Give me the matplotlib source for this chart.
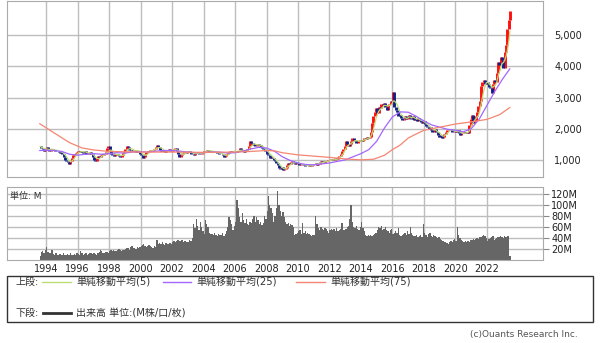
import numpy as np
import pandas as pd
import matplotlib
matplotlib.use('Agg')
import matplotlib.pyplot as plt
from matplotlib.patches import Rectangle
from matplotlib.lines import Line2D
from matplotlib.ticker import FuncFormatter

plt.rcParams['font.family'] = ['DejaVu Sans', 'Noto Sans CJK JP']

# monthly closes, Aug 1993 .. Jun 2023
close = [
    1430, 1380, 1350, 1290, 1330,
    1400, 1340, 1300, 1330, 1360, 1310, 1280, 1300, 1270, 1250, 1230, 1260,
    1200, 1100, 1000, 950, 920, 880, 960, 1050, 1150, 1180, 1220, 1250,
    1280, 1240, 1300, 1260, 1230, 1270, 1200, 1180, 1210, 1250, 1190, 1100,
    980, 950, 1050, 1120, 1080, 1150, 1200, 1140, 1180, 1250, 1380, 1430,
    1300, 1200, 1160, 1130, 1180, 1200, 1150, 1120, 1080, 1150, 1220, 1260,
    1350, 1450, 1400, 1320, 1280, 1300, 1330, 1290, 1260, 1300, 1280, 1200,
    1150, 1070, 1100, 1200, 1260, 1300, 1280, 1330, 1290, 1310, 1360, 1420,
    1470, 1400, 1330, 1300, 1320, 1280, 1250, 1290, 1310, 1340, 1300, 1280,
    1320, 1350, 1370, 1300, 1200, 1100, 1150, 1200, 1230, 1260, 1220, 1250,
    1270, 1240, 1200, 1180, 1160, 1210, 1250, 1230, 1200, 1180, 1220, 1260,
    1280, 1300, 1320, 1280, 1260, 1290, 1270, 1250, 1240, 1260, 1230, 1200,
    1180, 1200, 1150, 1100, 1120, 1180, 1220, 1260, 1280, 1250, 1270, 1290,
    1260, 1280, 1300, 1370, 1330, 1280, 1250, 1270, 1300, 1350, 1450, 1590,
    1530, 1480, 1500, 1430, 1460, 1520, 1480, 1400, 1380, 1350, 1300, 1270,
    1200, 1150, 1060, 1100, 1050, 980, 950, 900, 820, 730, 700, 760,
    680, 700, 750, 850, 900, 870, 920, 950, 900, 880, 920, 900,
    850, 830, 880, 860, 820, 800, 810, 790, 820, 800, 830, 860,
    880, 900, 850, 880, 920, 950, 930, 900, 950, 970, 980, 1000,
    1000, 1020, 980, 1000, 1050, 1030, 1080, 1120, 1180, 1270, 1350, 1450,
    1590, 1500, 1450, 1520, 1600, 1700, 1650, 1600, 1550, 1590, 1620, 1640,
    1600, 1650, 1700, 1680, 1720, 1700, 1750, 1900, 2180, 2400, 2550, 2650,
    2500, 2700, 2650, 2800, 2750, 2840, 2700, 2600, 2750, 2800, 2900, 2850,
    3170, 2710, 2600, 2550, 2400, 2450, 2350, 2290, 2320, 2400, 2300, 2380,
    2450, 2350, 2300, 2400, 2290, 2320, 2250, 2350, 2280, 2200, 2190, 2250,
    2150, 2100, 2070, 2000, 2050, 1950, 1900, 1950, 2000, 1880, 1800, 1750,
    1800, 1700, 1750, 1840, 1900, 1970, 1950, 2000, 1950, 1900, 1880, 1920,
    1900, 1950, 1870, 1800, 1850, 1870, 1900, 1850, 1880, 1870, 2130, 2300,
    2450, 2190, 2250, 2400, 2550, 2720, 2900, 3360, 3500, 3580, 3450, 3500,
    3420, 3350, 3300, 3160, 3450, 3580, 3500, 3800, 4130, 4050, 4290, 4200,
    3950, 4450, 4700, 5190, 5500, 5770,
]

# monthly volume in millions, same months
volume = [
    8, 14, 16, 13, 18,
    24, 15, 12, 13, 18, 11, 10, 12, 9, 10, 11, 9,
    10, 12, 9, 10, 11, 10, 12, 9, 10, 11, 10, 12,
    11, 10, 16, 12, 10, 11, 12, 10, 11, 12, 13, 11,
    12, 11, 10, 12, 14, 18, 16, 13, 12, 14, 15, 13,
    16, 18, 17, 19, 17, 16, 18, 20, 19, 17, 18, 19,
    20, 22, 21, 19, 24, 26, 22, 21, 20, 23, 22, 24,
    25, 27, 30, 26, 24, 25, 27, 26, 24, 22, 25, 23,
    36, 30, 31, 29, 32, 30, 28, 31, 30, 29, 31, 30,
    32, 34, 33, 35, 36, 34, 35, 36, 33, 34, 35, 32,
    33, 36, 35, 40, 65, 58, 75, 62, 55, 70, 60, 52,
    48, 72, 65, 60, 50, 47, 48, 46, 50, 45, 44, 47,
    45, 46, 50, 44, 48, 52, 60, 78, 72, 65, 55, 62,
    70, 110, 95, 78, 70, 85, 72, 68, 75, 66, 64, 70,
    68, 75, 80, 70, 78, 72, 66, 70, 64, 68, 80, 75,
    90, 117, 100, 95, 85, 70, 80, 95, 125, 100, 90, 80,
    88, 78, 70, 65, 68, 62, 65, 64, 60, 45, 48, 50,
    52, 55, 48, 67, 50, 52, 48, 50, 47, 45, 44, 46,
    45, 80, 65, 58, 55, 60, 57, 55, 58, 56, 52, 50,
    55, 57, 54, 56, 53, 58, 52, 55, 57, 67, 55, 54,
    56, 60, 62, 75, 100, 70, 60, 58, 62, 56, 55, 60,
    70, 58, 52, 45, 44, 46, 43, 45, 44, 46, 47, 50,
    55, 60, 58, 62, 55, 57, 60, 55, 52, 50, 54, 56,
    48, 50, 52, 49, 58, 46, 44, 45, 47, 50, 45, 52,
    48, 60, 50, 46, 44, 43, 45, 42, 44, 46, 42, 66,
    50, 45, 42, 48, 50, 44, 42, 46, 43, 41, 40, 42,
    38, 36, 35, 33, 32, 31, 30, 33, 34, 32, 36, 38,
    35, 60, 45, 40, 36, 34, 33, 35, 32, 34, 33, 36,
    37, 38, 36, 38, 40, 39, 41, 42, 44, 46, 43, 40,
    35, 38, 40, 42, 44, 36, 38, 40, 42, 41, 43, 42,
    40, 43, 42, 44, 43, 8,
]

# moving averages (decimal year, value)
ma25_x = [1993.6, 1994.0, 1994.5, 1995.0, 1995.5, 1996.0, 1996.5, 1997.0, 1997.5, 1998.0,
          1998.5, 1999.0, 1999.5, 2000.0, 2000.5, 2001.0, 2001.5, 2002.0, 2002.5, 2003.0,
          2003.5, 2004.0, 2004.5, 2005.0, 2005.5, 2006.0, 2006.5, 2007.0, 2007.5, 2008.0,
          2008.5, 2009.0, 2009.5, 2010.0, 2010.5, 2011.0, 2011.5, 2012.0, 2012.5, 2013.0,
          2013.5, 2014.0, 2014.5, 2015.0, 2015.5, 2016.0, 2016.5, 2017.0, 2017.5, 2018.0,
          2018.5, 2019.0, 2019.5, 2020.0, 2020.5, 2021.0, 2021.5, 2022.0, 2022.5, 2023.0,
          2023.45]
ma25_y = [1300, 1310, 1300, 1270, 1180, 1150, 1180, 1200, 1180, 1200,
          1230, 1220, 1250, 1260, 1250, 1280, 1300, 1300, 1280, 1250,
          1230, 1230, 1250, 1250, 1220, 1230, 1280, 1350, 1400, 1380,
          1280, 1100, 980, 900, 850, 840, 870, 900, 950, 1000,
          1100, 1200, 1330, 1600, 2030, 2380, 2540, 2530, 2400, 2250,
          2120, 2050, 1980, 1950, 1900, 2000, 2300, 2750, 3200, 3600,
          3920]

ma75_x = [1993.6, 1994.5, 1995.5, 1996.3, 1997.0, 1998.0, 2000.0, 2002.0, 2004.0, 2006.0,
          2007.0, 2008.0, 2008.5, 2009.0, 2010.0, 2011.0, 2012.0, 2013.0, 2014.0, 2014.8,
          2015.5, 2016.0, 2016.5, 2017.0, 2017.5, 2018.0, 2019.0, 2020.0, 2021.0, 2022.0,
          2022.8, 2023.45]
ma75_y = [2160, 1870, 1550, 1380, 1320, 1270, 1250, 1250, 1240, 1250,
          1270, 1300, 1290, 1230, 1160, 1120, 1080, 1030, 1000, 1020,
          1150, 1330, 1480, 1700, 1830, 1950, 2050, 2150, 2220, 2300,
          2450, 2680]

years = list(range(1994, 2023, 2))

# month centres as decimal years
t = 1993 + (7 + np.arange(len(close)) + 0.5) / 12
close = np.array(close, dtype=float)
opens = np.r_[close[0], close[:-1]]
ma5 = pd.Series(close).rolling(5, min_periods=1).mean()

grid_c = '#bdbdbd'

fig = plt.figure(figsize=(6, 3.43), dpi=100)
ax = fig.add_axes([0.0117, 0.484, 0.8933, 0.513])
ax2 = fig.add_axes([0.0117, 0.242, 0.8933, 0.213])

# candles
up = close >= opens
ax.vlines(t[up], opens[up], close[up], color='#ff1010', lw=2.1, zorder=2)
ax.vlines(t[~up], opens[~up], close[~up], color='#10208a', lw=2.1, zorder=2)
ax.plot(t, ma5, color='#bcdc78', lw=0.9, zorder=3)
ax.plot(ma25_x, ma25_y, color='#a366ff', lw=0.9, zorder=3)
ax.plot(ma75_x, ma75_y, color='#f58572', lw=0.9, zorder=3)

ax.set_xlim(1991.52, 2025.56)
ax.set_ylim(450, 6100)
ax.set_yticks([1000, 2000, 3000, 4000, 5000])
ax.yaxis.set_major_formatter(FuncFormatter(lambda v, p: f'{int(v):,}'))
ax.yaxis.tick_right()
ax.set_xticks(years)
ax.tick_params(axis='x', length=0, labelbottom=False)
ax.tick_params(axis='y', length=0, pad=8, labelsize=7, labelcolor='#222222')
ax.grid(True, color=grid_c, lw=1)
ax.set_axisbelow(True)

# volume
ax2.bar(t, volume, width=1 / 12, color='#666666', lw=0)
ax2.set_xlim(1991.52, 2025.56)
ax2.set_ylim(0, 133)
ax2.set_yticks([20, 40, 60, 80, 100, 120])
ax2.yaxis.set_major_formatter(FuncFormatter(lambda v, p: f'{int(v)}M'))
ax2.yaxis.tick_right()
ax2.set_xticks(years)
ax2.tick_params(axis='x', length=0, pad=3, labelsize=7, labelcolor='#222222')
ax2.tick_params(axis='y', length=4, color='#888888', pad=2, labelsize=7, labelcolor='#222222')
ax2.grid(True, color=grid_c, lw=1)
ax2.set_axisbelow(True)
ax2.text(0.005, 0.93, '単位: M', transform=ax2.transAxes, fontsize=6.5,
         ha='left', va='top', color='#333333')

for a in (ax, ax2):
    for s in a.spines.values():
        s.set_color('#aaaaaa')

# legend box
fig.patches.append(Rectangle((0.0117, 0.061), 0.9766, 0.134, transform=fig.transFigure,
                             fill=False, ec='#333333', lw=1))
ly1 = 1 - 282 / 343
ly2 = 1 - 313 / 343
fs = 7.2
fig.text(0.025, ly1, '上段:', fontsize=fs, va='center', color='#333333')
entries = [(42, 71, 76, '#bcdc78', '単純移動平均(5)'),
           (163, 191, 196, '#a366ff', '単純移動平均(25)'),
           (296, 325, 330, '#f58572', '単純移動平均(75)')]
for x0, x1, xt, c, lab in entries:
    fig.lines.append(Line2D([x0 / 600, x1 / 600], [ly1, ly1], transform=fig.transFigure,
                            color=c, lw=1))
    fig.text(xt / 600, ly1, lab, fontsize=fs, va='center', color='#333333')
fig.text(0.025, ly2, '下段:', fontsize=fs, va='center', color='#333333')
fig.lines.append(Line2D([43 / 600, 71 / 600], [ly2, ly2], transform=fig.transFigure,
                        color='#333333', lw=2))
fig.text(76 / 600, ly2, '出来高 単位:(M株/口/枚)', fontsize=fs, va='center', color='#333333')

fig.text(578 / 600, 1 - 334 / 343, '(c)Ouants Research Inc.', fontsize=6.5,
         ha='right', va='center', color='#555555')

fig.savefig('out.png', dpi=100)
